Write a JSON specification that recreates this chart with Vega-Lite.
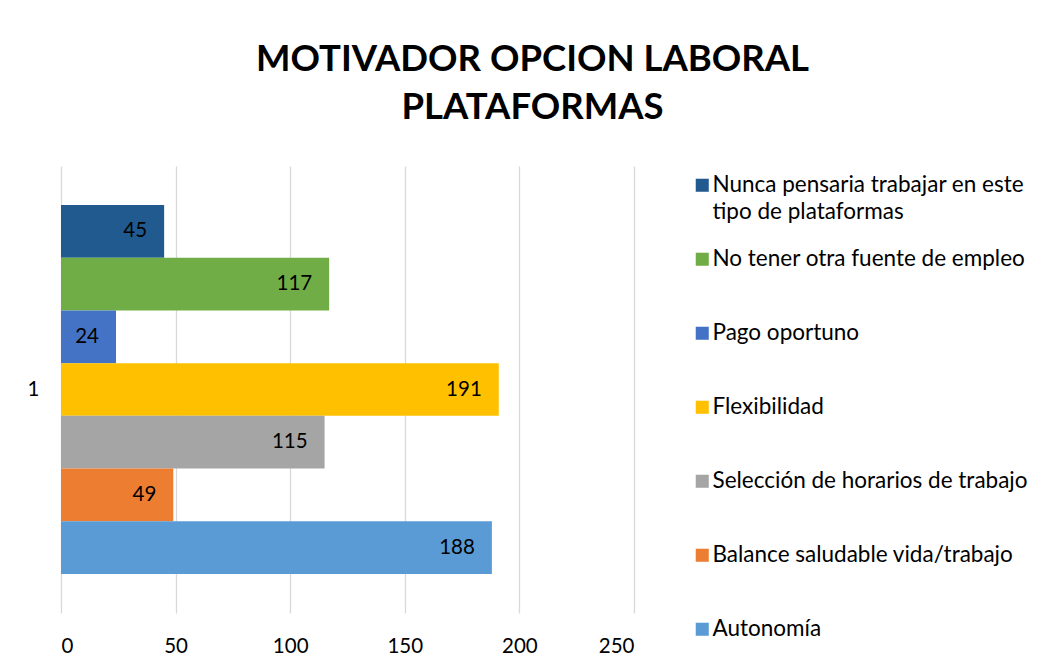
{
  "$schema": "https://vega.github.io/schema/vega-lite/v6.json",
  "width": 573,
  "height": 447,
  "autosize": {"type": "none"},
  "padding": {"left": 61, "top": 166, "right": 411, "bottom": 57},
  "background": "white",
  "title": {
    "text": ["MOTIVADOR OPCION LABORAL", "PLATAFORMAS"],
    "anchor": "middle",
    "frame": "group",
    "dx": 185,
    "fontSize": 36.5,
    "font": "Lato",
    "fontWeight": "bold",
    "color": "#000000",
    "lineHeight": 48,
    "offset": 40
  },
  "data": {
    "values": [
      {"grupo": "1", "motivo": "Nunca pensaria trabajar en este tipo de plataformas", "valor": 45},
      {"grupo": "1", "motivo": "No tener otra fuente de empleo", "valor": 117},
      {"grupo": "1", "motivo": "Pago oportuno", "valor": 24},
      {"grupo": "1", "motivo": "Flexibilidad", "valor": 191},
      {"grupo": "1", "motivo": "Selección de horarios de trabajo", "valor": 115},
      {"grupo": "1", "motivo": "Balance saludable vida/trabajo", "valor": 49},
      {"grupo": "1", "motivo": "Autonomía", "valor": 188}
    ]
  },
  "encoding": {
    "y": {
      "field": "grupo",
      "type": "nominal",
      "scale": {"paddingInner": 0, "paddingOuter": 0.106},
      "axis": {"title": null, "domain": false, "ticks": false, "labelPadding": 22, "labelFontSize": 20.5, "labelFont": "Lato", "labelColor": "#000000"}
    },
    "yOffset": {
      "field": "motivo",
      "type": "nominal",
      "sort": ["Nunca pensaria trabajar en este tipo de plataformas", "No tener otra fuente de empleo", "Pago oportuno", "Flexibilidad", "Selección de horarios de trabajo", "Balance saludable vida/trabajo", "Autonomía"],
      "scale": {"paddingInner": 0, "paddingOuter": 0}
    },
    "x": {
      "field": "valor",
      "type": "quantitative",
      "scale": {"domain": [0, 250], "nice": false},
      "axis": {"title": null, "values": [0, 50, 100, 150, 200, 250], "domain": false, "ticks": false, "grid": true, "gridColor": "#D9D9D9", "gridWidth": 1.3, "labelPadding": 23, "labelFontSize": 20.5, "labelFont": "Lato", "labelColor": "#000000"}
    }
  },
  "layer": [
    {
      "mark": {"type": "bar"},
      "encoding": {
        "color": {
          "field": "motivo",
          "type": "nominal",
          "scale": {
            "domain": ["Nunca pensaria trabajar en este tipo de plataformas", "No tener otra fuente de empleo", "Pago oportuno", "Flexibilidad", "Selección de horarios de trabajo", "Balance saludable vida/trabajo", "Autonomía"],
            "range": ["#215A8F", "#70AD47", "#4472C4", "#FFC000", "#A5A5A5", "#ED7D31", "#5B9BD5"]
          },
          "legend": {
            "title": null,
            "orient": "none",
            "legendX": 630,
            "legendY": 8,
            "symbolType": "square",
            "symbolSize": 170,
            "symbolStrokeWidth": 0,
            "labelFontSize": 22.5,
            "labelFont": "Lato",
            "labelColor": "#000000",
            "labelLimit": 400,
            "labelOffset": -1,
            "rowPadding": 24,
            "labelExpr": "datum.label == 'Nunca pensaria trabajar en este tipo de plataformas' ? ['Nunca pensaria trabajar en este', 'tipo de plataformas'] : [datum.label, ' ']",
            "encode": {"labels": {"update": {"lineHeight": {"value": 27}}}}
          }
        }
      }
    },
    {
      "mark": {"type": "text", "align": "right", "baseline": "middle", "dx": -17, "fontSize": 20.5, "font": "Lato", "color": "#000000"},
      "encoding": {
        "text": {"field": "valor", "type": "quantitative"}
      }
    }
  ],
  "config": {
    "view": {"stroke": null}
  }
}
